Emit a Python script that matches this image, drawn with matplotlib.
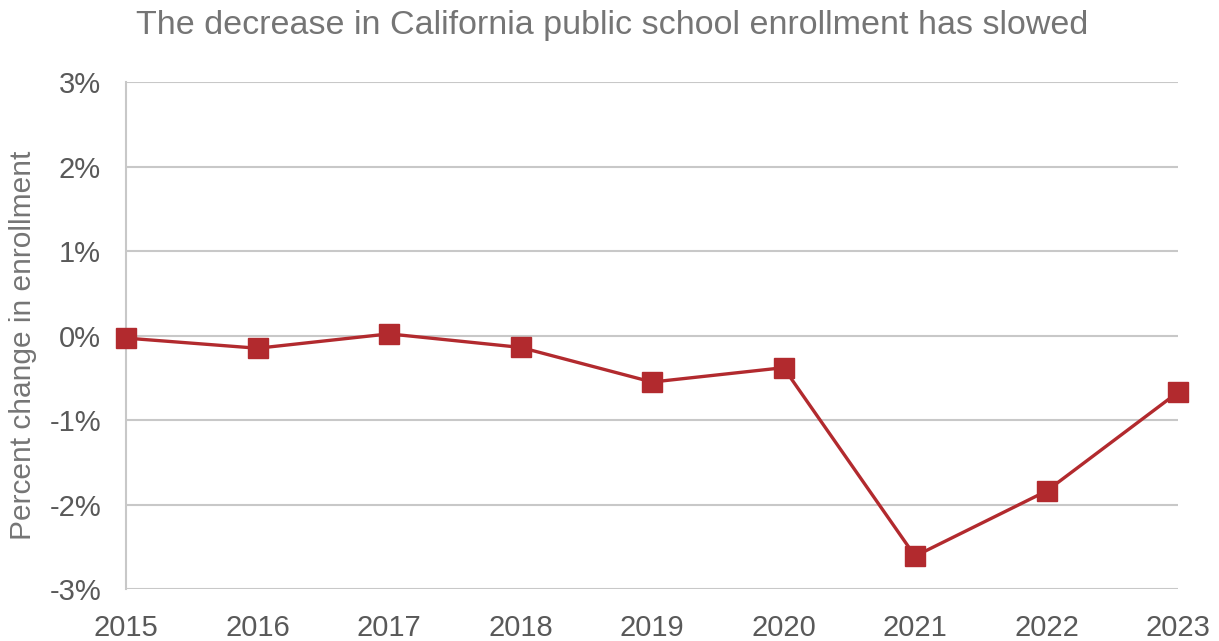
import matplotlib
matplotlib.use('Agg')
import matplotlib.pyplot as plt
from matplotlib.ticker import FuncFormatter

plt.rcParams['font.family'] = ['Liberation Sans', 'DejaVu Sans']

years = [2015, 2016, 2017, 2018, 2019, 2020, 2021, 2022, 2023]
pct_change = [-0.03, -0.15, 0.02, -0.14, -0.55, -0.38, -2.61, -1.84, -0.67]
y_ticks = [-3, -2, -1, 0, 1, 2, 3]

red = '#b22a2e'
grey_txt = '#595959'
grid_col = '#c8c8c8'

fig = plt.figure(figsize=(12.19, 6.41), dpi=100)
ax = fig.add_axes([0.1034, 0.081, 0.863, 0.791])

ax.plot(years, pct_change, color=red, lw=2.4, marker='s', markersize=14,
        markerfacecolor=red, markeredgecolor=red, zorder=3, clip_on=False)

ax.set_xlim(2015, 2023)
ax.set_ylim(-3, 3)
ax.set_xticks(years)
ax.set_yticks(y_ticks)
ax.yaxis.set_major_formatter(FuncFormatter(lambda v, p: '%d%%' % v))

ax.grid(axis='y', color=grid_col, lw=1.5)
ax.set_axisbelow(True)
for s in ['top', 'right', 'bottom']:
    ax.spines[s].set_visible(False)
ax.spines['left'].set_color(grid_col)
ax.spines['left'].set_linewidth(1.5)

ax.tick_params(axis='both', length=0, labelsize=21, colors=grey_txt)
ax.tick_params(axis='y', pad=18)
ax.tick_params(axis='x', pad=18)

# y label placed by hand so it sits near the left edge like the original
fig.text(23 / 1219, 1 - 345 / 641, 'Percent change in enrollment', rotation=90,
         fontsize=21.5, color='#757575', ha='center', va='center')
fig.suptitle('The decrease in California public school enrollment has slowed',
             fontsize=24.5, color='#757575', x=0.502, y=0.985)

plt.savefig('out.png', dpi=100)
